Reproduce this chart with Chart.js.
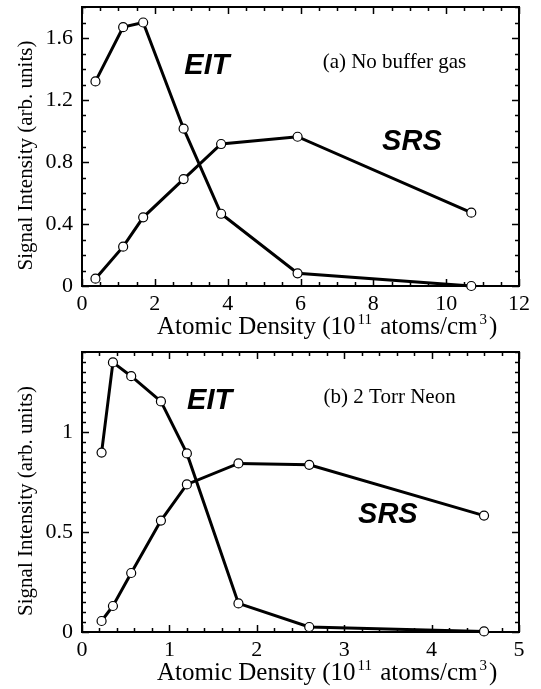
<!DOCTYPE html>
<html>
<head>
<meta charset="utf-8">
<script src="https://cdn.jsdelivr.net/npm/chart.js@4.4.1/dist/chart.umd.min.js"></script>
<style>
  html, body { margin: 0; padding: 0; background: #fff; }
  #wrap { position: relative; width: 541px; height: 689px; }
  canvas { position: absolute; left: 0; }
</style>
</head>
<body>
<div id="wrap">
  <canvas id="panelA" width="541" height="345" style="top:0"></canvas>
  <canvas id="panelB" width="541" height="344" style="top:345px"></canvas>
</div>
<script>
// panel (a): no buffer gas
var densityA = [0.37, 1.13, 1.68, 2.79, 3.82, 5.92, 10.69];
var eitA = [1.32, 1.67, 1.70, 1.015, 0.466, 0.082, 0.0];
var srsA = [0.047, 0.254, 0.443, 0.69, 0.916, 0.963, 0.473];

// panel (b): 2 Torr neon
var densityB = [0.224, 0.354, 0.563, 0.903, 1.2, 1.79, 2.6, 4.6];
var eitB = [0.897, 1.348, 1.279, 1.153, 0.893, 0.143, 0.025, 0.003];
var srsB = [0.055, 0.13, 0.295, 0.557, 0.738, 0.843, 0.836, 0.582];

var xLabelsA = [0, 2, 4, 6, 8, 10, 12];
var yLabelsA = [0, 0.4, 0.8, 1.2, 1.6];
var xLabelsB = [0, 1, 2, 3, 4, 5];
var yLabelsB = [0, 0.5, 1];

// x title pieces: [text, superscript?]
var xTitleParts = [['Atomic Density (10', false], ['11', true], [' atoms/cm', false], ['3', true], [')', false]];
var yTitle = 'Signal Intensity (arb. units)';

// text placed in data units
var notesA = [
    {text: 'EIT', x: 3.43, y: 1.42, kind: 'tag'},
    {text: 'SRS', x: 9.06, y: 0.929, kind: 'tag'},
    {text: '(a) No buffer gas', x: 8.58, y: 1.44, kind: 'caption'}
];
var notesB = [
    {text: 'EIT', x: 1.46, y: 1.155, kind: 'tag'},
    {text: 'SRS', x: 3.5, y: 0.585, kind: 'tag'},
    {text: '(b) 2 Torr Neon', x: 3.52, y: 1.175, kind: 'caption'}
];

var serif = "'Liberation Serif', 'Times New Roman', serif";

function near(list, v) {
    for (var i = 0; i < list.length; i++) {
        if (Math.abs(list[i] - v) < 1e-6) return true;
    }
    return false;
}

// frame + inward ticks on all four sides
const frameTicks = {
    id: 'frameTicks',
    beforeDatasetsDraw(chart) {
        const {ctx, chartArea: a, scales} = chart;
        ctx.save();
        ctx.strokeStyle = '#000';
        ctx.lineWidth = 1.5;
        ctx.beginPath();
        scales.x.ticks.forEach(t => {
            const px = Math.round(scales.x.getPixelForValue(t.value)) + 0.5;
            const len = t.label !== '' ? 7 : 4;
            ctx.moveTo(px, a.bottom); ctx.lineTo(px, a.bottom - len);
            ctx.moveTo(px, a.top); ctx.lineTo(px, a.top + len);
        });
        scales.y.ticks.forEach(t => {
            const py = Math.round(scales.y.getPixelForValue(t.value)) + 0.5;
            const len = t.label !== '' ? 7 : 4;
            ctx.moveTo(a.left, py); ctx.lineTo(a.left + len, py);
            ctx.moveTo(a.right, py); ctx.lineTo(a.right - len, py);
        });
        ctx.stroke();
        ctx.lineWidth = 2;
        ctx.strokeRect(a.left, a.top, a.right - a.left, a.bottom - a.top);
        ctx.restore();
    }
};

const notesPlugin = {
    id: 'notes',
    afterDatasetsDraw(chart, args, opts) {
        const {ctx, scales, chartArea: a} = chart;
        ctx.save();
        ctx.fillStyle = '#000';
        ctx.textAlign = 'center';
        ctx.textBaseline = 'middle';
        opts.items.forEach(n => {
            if (n.kind === 'tag') {
                ctx.font = "italic bold 29px 'Liberation Sans', Arial, sans-serif";
            } else {
                ctx.font = '21px ' + serif;
            }
            ctx.fillText(n.text, scales.x.getPixelForValue(n.x), scales.y.getPixelForValue(n.y));
        });

        // y axis title, rotated
        ctx.save();
        ctx.font = '21px ' + serif;
        ctx.translate(26.5, (a.top + a.bottom) / 2 + 9);
        ctx.rotate(-Math.PI / 2);
        ctx.fillText(yTitle, 0, 0);
        ctx.restore();

        // x axis title with superscripts
        const big = '25px ' + serif, small = '15px ' + serif;
        let x = opts.titleLeft;
        const y = a.bottom + opts.titleGap;
        ctx.textAlign = 'left';
        ctx.textBaseline = 'alphabetic';
        xTitleParts.forEach(p => {
            ctx.font = p[1] ? small : big;
            ctx.fillText(p[0], x + (p[1] ? 2 : 0), p[1] ? y - 10 : y);
            x += ctx.measureText(p[0]).width + (p[1] ? 4 : 0);
        });
        ctx.restore();
    }
};

function lineSet(label, xs, ys) {
    return {
        label: label,
        data: xs.map((x, i) => ({x: x, y: ys[i]})),
        borderColor: '#000',
        borderWidth: 3,
        pointRadius: 4.5,
        pointBackgroundColor: '#fff',
        pointBorderColor: '#000',
        pointBorderWidth: 1.2,
        tension: 0,
        clip: false
    };
}

function makePanel(id, xs, eit, srs, xMax, xStep, xLabels, yMax, yStep, yLabels, notes, xAxisHeight) {
    return new Chart(document.getElementById(id), {
        type: 'line',
        data: {
            datasets: [lineSet('EIT', xs, eit), lineSet('SRS', xs, srs)]
        },
        options: {
            responsive: false,
            animation: false,
            devicePixelRatio: 1,
            layout: {padding: {top: 7, right: 22, bottom: 0, left: 0}},
            plugins: {
                legend: {display: false},
                tooltip: {enabled: false},
                notes: {items: notes, titleGap: 48, titleLeft: 157}
            },
            scales: {
                x: {
                    type: 'linear',
                    min: 0,
                    max: xMax,
                    afterFit: s => { s.height = xAxisHeight; s.paddingLeft = 0; s.paddingRight = 0; },
                    grid: {display: false, drawTicks: false},
                    border: {display: false},
                    ticks: {
                        stepSize: xStep,
                        autoSkip: false,
                        maxRotation: 0,
                        padding: 5,
                        color: '#000',
                        font: {family: serif, size: 22},
                        callback: v => near(xLabels, v) ? String(Math.round(v)) : ''
                    }
                },
                y: {
                    min: 0,
                    max: yMax,
                    afterFit: s => { s.width = 82; s.paddingTop = 0; s.paddingBottom = 0; },
                    grid: {display: false, drawTicks: false},
                    border: {display: false},
                    ticks: {
                        stepSize: yStep,
                        autoSkip: false,
                        padding: 9,
                        color: '#000',
                        font: {family: serif, size: 22},
                        callback: v => near(yLabels, v) ? String(Math.round(v * 10) / 10) : ''
                    }
                }
            }
        },
        plugins: [frameTicks, notesPlugin]
    });
}

makePanel('panelA', densityA, eitA, srsA, 12, 0.5, xLabelsA, 1.8, 0.1, yLabelsA, notesA, 59);
makePanel('panelB', densityB, eitB, srsB, 5, 0.2, xLabelsB, 1.4, 0.05, yLabelsB, notesB, 57);
</script>
</body>
</html>
